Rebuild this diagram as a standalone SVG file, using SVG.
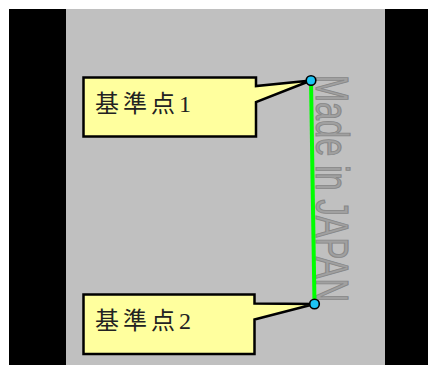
<svg xmlns="http://www.w3.org/2000/svg" width="428" height="365" viewBox="0 0 428 365">
<defs>
<style>
.callout{fill:#ffff9e;stroke:#000;stroke-width:2.5;stroke-linejoin:miter}
.lbl{font-family:"Liberation Serif","Noto Sans CJK JP",serif;font-size:24px;fill:#222;letter-spacing:4px}
.pt{fill:#1ec4f4;stroke:#000;stroke-width:1.6}
.stamp{font-family:"Liberation Sans",Arial,sans-serif;font-size:32.5px;fill:#a0a0a0;stroke:#888;stroke-width:0.8}
</style>
</defs>
<rect x="0" y="0" width="428" height="365" fill="#fff"/>
<rect x="9" y="9" width="419" height="356" fill="#000"/>
<rect x="66" y="9" width="319" height="356" fill="#c0c0c0"/>
<g id="stamp">
<text class="stamp" transform="translate(316,75) rotate(90) scale(1,1.4)">Made in JAPAN</text>
</g>
<g id="connectors">
<line x1="311" y1="80.5" x2="314.5" y2="304" stroke="#00ff00" stroke-width="4"/>
</g>
<g id="callout1">
<polygon class="callout" points="83.5,77.5 256,77.5 256,86 311,80.5 256,102 256,136.5 83.5,136.5"/>
<text class="lbl" x="95" y="112">基準点1</text>
</g>
<g id="callout2">
<polygon class="callout" points="83.5,294.5 254.5,294.5 254.5,303.5 314.5,304 254.5,319.5 254.5,354 83.5,354"/>
<text class="lbl" x="95" y="329">基準点2</text>
</g>
<g id="point1"><circle class="pt" cx="311" cy="80.5" r="4.8"/></g>
<g id="point2"><circle class="pt" cx="314.5" cy="304" r="4.8"/></g>
</svg>
